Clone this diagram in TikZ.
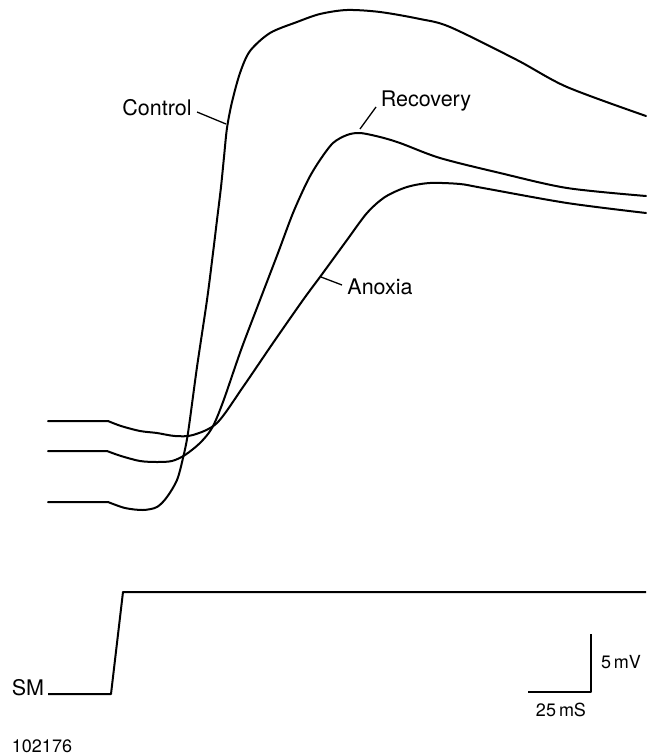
\documentclass[tikz,border=0pt]{standalone}
\usepackage{fontspec}
\setmainfont{TeX Gyre Heros}
\begin{document}
\begin{tikzpicture}[x=1pt,y=-1pt,
  trace/.style={line width=2pt,line join=round,line cap=round},
  lbl/.style={font=\fontsize{21.5}{25}\selectfont,inner sep=0pt},
  small/.style={font=\fontsize{18}{22}\selectfont,inner sep=0pt},
  lead/.style={line width=1.3pt}]
\useasboundingbox (0,0) rectangle (646,755);
% Control trace
\draw[trace] (48,502) -- (108,502) plot[smooth,tension=0.5] coordinates {(108,502) (125,508) (143,510) (157,507) (167,497) (177,480) (183,458) (188,433) (197,367) (207,300) (213,253) (217,220) (221,187) (224,157) (227,128) (232,102) (240,73) (250,51) (270,33) (297,22) (320,14) (347,10) (380,12) (420,19) (450,27) (517,60) (567,87) (646,116)};
% Recovery trace
\draw[trace] (48,451) -- (107,451) plot[smooth,tension=0.5] coordinates {(107,451) (121,456) (140,461) (157,462) (172,461) (185,455) (200,443) (212,428) (223,402) (241,350) (260,300) (278,253) (293,213) (308,180) (320,160) (333,143) (347,135) (360,133) (380,137) (400,143) (440,158) (500,173) (567,188) (646,196)};
% Anoxia trace
\draw[trace] (48,421) -- (108,421) plot[smooth,tension=0.5] coordinates {(108,421) (121,426) (140,431) (157,433) (175,436) (193,435) (217,423) (243,387) (273,343) (303,300) (320,277) (347,240) (367,213) (385,197) (407,187) (430,183) (460,184) (483,188) (567,203) (646,213)};
% labels
\node[lbl] (ctl) at (157,108) {Control};
\coordinate (ctlpt) at (226,124);
\draw[lead] (197,112) coordinate (ctla) -- (ctlpt);
\node[lbl] (rec) at (426,101) {Recovery};
\coordinate (recpt) at (360,129);
\draw[lead] (376,107) coordinate (reca) -- (recpt);
\node[lbl] (anx) at (380,287) {Anoxia};
\coordinate (anxpt) at (321,277);
\draw[lead] (342,285) coordinate (anxa) -- (anxpt);
% stimulus monitor
\node[lbl] (sm) at (28,688) {SM};
\coordinate (sm0) at (48,694);
\coordinate (sm1) at (111,694);
\coordinate (sm2) at (123,592);
\coordinate (sm3) at (646,592);
\draw[trace,line cap=butt] (sm0) -- (sm1) -- (sm2) -- (sm3);
% scale bar
\coordinate (sbt) at (591,634);
\coordinate (sbc) at (591,692);
\coordinate (sbl) at (528,692);
\draw[trace,line cap=butt] (sbt) -- (sbc) -- (sbl);
\node[small] (mv) at (621,662) {5\,mV};
\node[small] (ms) at (561,710) {25\,mS};
\node[small] (id) at (42,746) {102176};
\end{tikzpicture}
\end{document}
